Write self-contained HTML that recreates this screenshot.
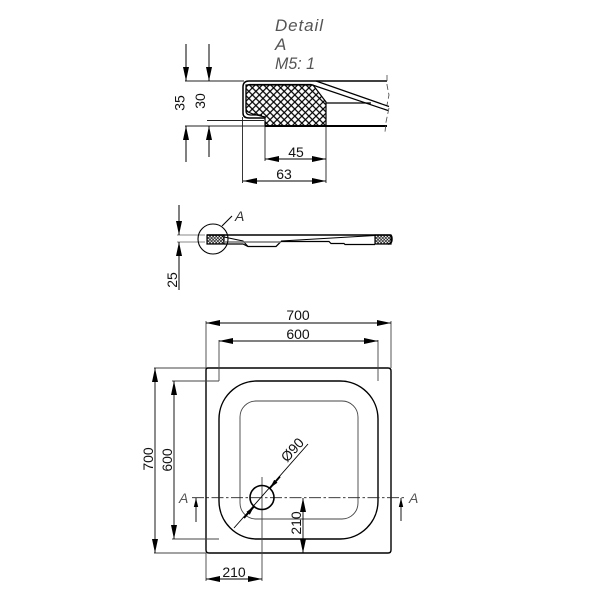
<!DOCTYPE html>
<html>
<head>
<meta charset="utf-8">
<style>
html,body{margin:0;padding:0;background:#fff;width:600px;height:600px;overflow:hidden}
svg{display:block}
text{font-family:"Liberation Sans",sans-serif;fill:#111}
.d{font-size:14px;text-anchor:middle}
.t{font-size:17px;font-style:italic;fill:#555}
</style>
</head>
<body>
<svg width="600" height="600" viewBox="0 0 600 600" xmlns="http://www.w3.org/2000/svg">
<defs>
<marker id="a" markerUnits="userSpaceOnUse" markerWidth="16" markerHeight="8" refX="14" refY="4" orient="auto-start-reverse"><path d="M0 1L14 4L0 7Z" fill="#000"/></marker>
<marker id="s" markerUnits="userSpaceOnUse" markerWidth="10" markerHeight="6" refX="9" refY="3" orient="auto-start-reverse"><path d="M0 .8L9 3L0 5.200Z" fill="#000"/></marker>
<pattern id="h" width="5" height="5" patternUnits="userSpaceOnUse" patternTransform="rotate(45 246 85)"><path d="M0 2.500H5M2.500 0V5" stroke="#000" stroke-width="1.2" fill="none"/></pattern>
<pattern id="f" width="2.200" height="2.200" patternUnits="userSpaceOnUse" patternTransform="rotate(45)"><path d="M0 1.100H2.200M1.100 0V2.200" stroke="#000" stroke-width=".6" fill="none"/></pattern>
</defs>

<!-- Detail title -->
<text class="t" x="275" y="31" textLength="48" lengthAdjust="spacing">Detail</text>
<text class="t" x="275" y="50">A</text>
<text class="t" x="275" y="69" textLength="40" lengthAdjust="spacingAndGlyphs">M5: 1</text>

<!-- Detail view -->
<g fill="none" stroke="#000">
<path d="M246 85H313L326 102V126H265V117L253 114L248 112Q246 111 246 108Z" fill="url(#h)" stroke-width="1.2"/>
<path d="M185 81H244M185 126H265M207 120.500H264M242.500 117V183M265 126V161M326 126V183" stroke="#222" stroke-width=".9"/>
<path d="M387 81H249Q243 81 243 87V113Q243 118 249 118H265" stroke-width="1.500"/>
<path d="M265 126H387" stroke-width="2"/>
<path d="M316 81L389 106.500M311 84.500H250Q246 84.500 246 88V111Q246 115 251 115H262M311 84.500L388 110.500" stroke-width="1.200"/>
<path d="M326 103H371" stroke-width="1.300"/>
<path d="M387 75V85L389 95L387 105M389 108L386 122L385 132" stroke="#444" stroke-width=".8" stroke-dasharray="6 3"/>
<g stroke-width="1">
<path d="M186 44V81" marker-end="url(#a)"/>
<path d="M186 162V126" marker-end="url(#a)"/>
<path d="M209 44V81" marker-end="url(#a)"/>
<path d="M209 157V126" marker-end="url(#a)"/>
<path d="M265 159H326" marker-start="url(#a)" marker-end="url(#a)"/>
<path d="M243 181H326" marker-start="url(#a)" marker-end="url(#a)"/>
</g>
</g>
<text class="d" transform="translate(184.500 103) rotate(-90)">35</text>
<text class="d" transform="translate(205 101) rotate(-90)">30</text>
<text class="d" x="296" y="157">45</text>
<text class="d" x="284" y="179">63</text>

<!-- Side view -->
<g fill="none" stroke="#000">
<path d="M177 235H205M177 242H205" stroke="#888" stroke-width="1"/>
<path d="M207 235H224V244H207Z" fill="url(#f)" stroke-width="1.200"/>
<path d="M375 235H391V244H375Z" fill="url(#f)" stroke-width="1.200"/>
<path d="M207 235H390Q392 235 392 239Q392 244 388 244" stroke-width="1.500"/>
<path d="M224 244H243L248 246.500H276L281 241.500H329L331 243.500H344L345 244.500H375" stroke-width="1.200"/>
<path d="M224 237L243 241L248 246.500M281 241L375 235.500M276 246.500L281 241.500" stroke-width="1.100"/>
<path d="M224 242H281" stroke="#777" stroke-width="1.500"/>
<circle cx="213" cy="239" r="15" stroke-width="1.100"/>
<path d="M222 226L232 216" stroke-width="1.100"/>
<path d="M179 205V235" stroke-width="1" marker-end="url(#a)"/>
<path d="M179 290V242" stroke-width="1" marker-end="url(#a)"/>
</g>
<text x="235" y="221" font-size="14" font-style="italic" style="fill:#333">A</text>
<text class="d" transform="translate(177 280) rotate(-90)">25</text>

<!-- Plan view -->
<g fill="none" stroke="#000">
<path d="M208 368H388Q391 368 391 371V550Q391 553 388 553H209Q206 553 206 550V370Q206 368 208 368Z" stroke-width="1.400"/>
<rect x="219" y="381" width="159" height="158" rx="38" ry="38" stroke-width="1.400"/>
<rect x="240" y="401" width="118" height="118" rx="16" ry="16" stroke="#444" stroke-width=".9"/>
<g stroke="#444" stroke-width=".9">
<path d="M206 321V368M391 321V368M219 340V381M378 340V381"/>
<path d="M154 368H206M154 553H206M172 381H219M172 539H219"/>
<path d="M206 553V581M262 477V581"/>
</g>
<g stroke-width=".9">
<path d="M206 323H391" marker-start="url(#a)" marker-end="url(#a)"/>
<path d="M219 341H378" marker-start="url(#a)" marker-end="url(#a)"/>
<path d="M155 368V553" marker-start="url(#a)" marker-end="url(#a)"/>
<path d="M174 381V539" marker-start="url(#a)" marker-end="url(#a)"/>
<path d="M206 579H262" marker-start="url(#a)" marker-end="url(#a)"/>
<path d="M303 498V553" marker-start="url(#a)" marker-end="url(#a)"/>
<path d="M234 528L308 444"/>
<path d="M244 518L254 506.500" marker-end="url(#s)" stroke-width="1.800"/>
<path d="M280 476.500L270 488" marker-end="url(#s)" stroke-width="1.800"/>
</g>
<path d="M192 497.700H405" stroke="#222" stroke-width=".9" stroke-dasharray="12 2.500 2.500 2.500"/>
<circle cx="262" cy="497.500" r="12" stroke-width="1.600"/>
<path d="M196 522V498" stroke-width=".9" marker-end="url(#s)"/>
<path d="M401 521V498" stroke-width=".9" marker-end="url(#s)"/>
</g>
<text class="d" x="298" y="320">700</text>
<text class="d" x="298" y="339">600</text>
<text class="d" transform="translate(153 459) rotate(-90)">700</text>
<text class="d" transform="translate(172 460) rotate(-90)">600</text>
<text class="d" x="234" y="577">210</text>
<text class="d" transform="translate(301 523) rotate(-90)">210</text>
<text class="d" transform="translate(296 453) rotate(-48)">Ø90</text>
<text x="179" y="503" font-size="14" font-style="italic" style="fill:#555">A</text>
<text x="409" y="503" font-size="14" font-style="italic" style="fill:#555">A</text>
</svg>
</body>
</html>
